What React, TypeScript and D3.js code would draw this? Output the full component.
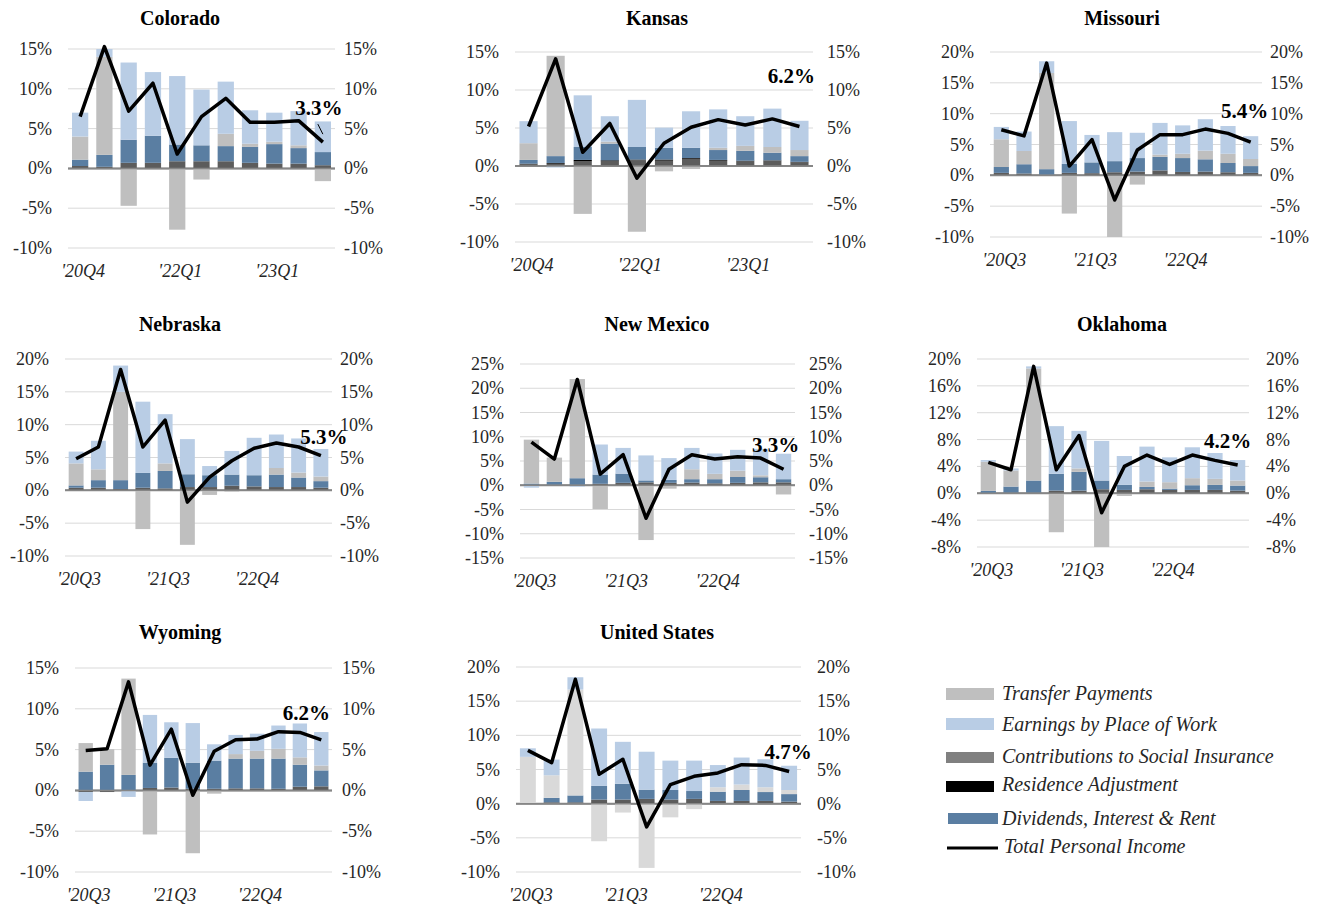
import React from 'react';
import * as d3 from 'd3';

// ---------- tick labels ----------
const ticksCOKS = ["'20Q4", '', '', '', "'22Q1", '', '', '', "'23Q1", '', ''];
const ticksOther = ["'20Q3", '', '', '', "'21Q3", '', '', '', "'22Q4", '', '', ''];

// ---------- Colorado ----------
const coContrib = [0.3, 0.2, 0.7, 0.7, 0.9, 0.9, 0.9, 0.7, 0.6, 0.6, 0.4];
const coResidence = [0, 0, 0, 0, 0, 0, 0, 0, 0, 0, 0];
const coDividends = [0.8, 1.5, 2.9, 3.4, 2.1, 2.0, 1.9, 2.0, 2.45, 1.95, 1.65];
const coTransfers = [2.9, 12.3, -4.7, 0, -7.7, -1.4, 1.55, 0.4, 0.3, 0.35, -1.6];
const coEarnings = [3.0, 1.0, 9.7, 8.0, 8.6, 7.0, 6.55, 4.2, 3.65, 4.3, 3.85];
const coTotal = [6.5, 15.3, 7.2, 10.7, 1.8, 6.5, 8.8, 5.8, 5.8, 6.0, 3.3];
const coCallout = 3.3;

// ---------- Kansas ----------
const ksContrib = [0.25, 0.3, 0.6, 0.6, 0.75, 0.7, 0.95, 0.7, 0.65, 0.7, 0.5];
const ksResidence = [0.05, 0.1, 0.2, 0.15, 0.1, 0.15, 0.1, 0.1, 0.05, 0.05, 0.05];
const ksDividends = [0.5, 0.9, 1.7, 2.2, 1.65, 1.55, 1.35, 1.3, 1.3, 1.0, 0.75];
const ksTransfers = [2.2, 13.2, -6.3, 0.25, -8.65, -0.7, -0.4, 0.3, 0.65, 0.75, 0.8];
const ksEarnings = [2.9, -0.2, 6.8, 3.35, 6.2, 2.65, 4.8, 5.05, 3.9, 5.05, 3.85];
const ksTotal = [5.2, 14.1, 1.8, 5.6, -1.6, 3.0, 5.1, 6.1, 5.4, 6.2, 5.2];
const ksCallout = 6.2;

// ---------- Missouri ----------
const moContrib = [0.4, 0.3, 0.1, 0.4, 0.35, 0.5, 0.6, 0.8, 0.55, 0.6, 0.5, 0.4];
const moResidence = [0, 0, 0, 0, 0, 0, 0, 0, 0, 0, 0, 0];
const moDividends = [0.95, 1.5, 0.9, 1.45, 1.75, 1.8, 2.2, 2.2, 2.25, 2.0, 1.5, 1.1];
const moTransfers = [4.5, 2.15, 15.6, -6.2, 0, -10.0, -1.5, 0.35, 0.7, 1.4, 1.5, 1.15];
const moEarnings = [2.0, 3.15, 1.9, 6.95, 4.45, 4.7, 4.1, 5.15, 4.6, 5.1, 4.5, 3.7];
const moTotal = [7.4, 6.4, 18.2, 1.5, 5.8, -4.0, 4.1, 6.6, 6.6, 7.5, 6.8, 5.4];
const moCallout = 5.4;

// ---------- Nebraska ----------
const neContrib = [0.4, 0.4, 0.2, 0.4, 0.3, 0.5, 0.5, 0.7, 0.6, 0.5, 0.5, 0.4];
const neResidence = [0, 0, 0, 0, 0, 0, 0, 0, 0, 0, 0, 0];
const neDividends = [0.35, 1.15, 1.35, 2.25, 2.65, 1.95, 1.8, 1.7, 1.7, 1.9, 1.45, 1.0];
const neTransfers = [3.35, 1.65, 13.45, -5.9, 1.15, -8.3, -0.7, -0.2, 0, 1.0, 0.75, 0.7];
const neEarnings = [1.8, 4.35, 4.0, 10.85, 7.5, 5.35, 1.4, 3.6, 5.7, 5.1, 5.2, 4.2];
const neTotal = [4.8, 6.6, 18.4, 6.6, 10.7, -1.8, 2.0, 4.5, 6.4, 7.2, 6.6, 5.3];
const neCallout = 5.3;

// ---------- New Mexico ----------
const nmContrib = [0.1, 0.1, 0.1, 0.3, 0.5, 0.6, 0.5, 0.55, 0.4, 0.5, 0.6, 0.6];
const nmResidence = [0, 0, 0, 0, 0, 0, 0, 0, 0, 0, 0, 0];
const nmDividends = [0.25, 0.6, 1.35, 1.9, 1.9, 0.4, 0.6, 0.7, 0.85, 1.2, 1.05, 0.65];
const nmTransfers = [9.05, 5.0, 20.45, -4.9, 0, -11.3, -0.7, 2.05, 1.1, 1.3, 0.4, -1.9];
const nmEarnings = [-0.5, 0, -0.3, 6.2, 5.3, 5.15, 4.5, 4.4, 4.2, 4.3, 5.45, 5.25];
const nmTotal = [8.9, 5.4, 21.8, 2.3, 6.3, -6.8, 3.3, 6.3, 5.4, 5.9, 5.6, 3.3];
const nmCallout = 3.3;

// ---------- Oklahoma ----------
const okContrib = [0.05, 0.1, 0.1, 0.4, 0.4, 0.6, 0.5, 0.6, 0.5, 0.5, 0.5, 0.4];
const okResidence = [0, 0, 0, 0, 0, 0, 0, 0, 0, 0, 0, 0];
const okDividends = [0.3, 0.9, 1.8, 2.5, 2.8, 1.3, 0.75, 0.35, 0.2, 0.7, 0.75, 0.75];
const okTransfers = [4.35, 2.4, 16.7, -5.8, 0.5, -8.4, -0.4, 0.8, 0.95, 1.05, 0.9, 0.75];
const okEarnings = [0.25, 0.3, 0.3, 7.1, 5.6, 5.9, 4.3, 5.2, 3.7, 4.6, 3.85, 3.05];
const okTotal = [4.6, 3.5, 18.9, 3.5, 8.6, -2.9, 4.0, 5.7, 4.3, 5.7, 4.9, 4.2];
const okCallout = 4.2;

// ---------- Wyoming ----------
const wyContrib = [-0.2, -0.2, 0, 0.3, 0.35, 0.2, 0.2, 0.25, 0.25, 0.2, 0.45, 0.5];
const wyResidence = [0, 0, 0, 0, 0, 0, 0, 0, 0, 0, 0, 0];
const wyDividends = [2.3, 3.15, 1.9, 3.1, 3.65, 3.2, 3.45, 3.65, 3.65, 3.7, 2.7, 1.95];
const wyTransfers = [3.5, 1.9, 11.8, -5.4, 0, -7.7, -0.4, 0.55, 0.95, 1.2, 0.9, 0.6];
const wyEarnings = [-1.1, 0, -0.8, 5.85, 4.35, 4.85, 2.0, 2.35, 2.1, 2.85, 4.15, 4.1];
const wyTotal = [4.9, 5.1, 13.3, 3.1, 7.5, -0.6, 4.8, 6.2, 6.3, 7.2, 7.1, 6.2];
const wyCallout = 6.2;

// ---------- United States ----------
const usContrib = [0.05, 0.2, 0.2, 0.6, 0.6, 0.7, 0.6, 0.7, 0.4, 0.4, 0.4, 0.3];
const usResidence = [0, 0, 0, 0, 0, 0, 0, 0, 0, 0, 0, 0];
const usDividends = [0.05, 0.65, 1.0, 2.0, 2.3, 1.35, 1.4, 1.15, 1.35, 1.6, 1.3, 1.1];
const usTransfers = [6.75, 3.3, 15.5, -5.5, -1.3, -9.4, -2.0, -0.8, 0.65, 0.8, 0.7, 0.6];
const usEarnings = [1.25, 2.3, 1.8, 8.4, 6.15, 5.55, 4.3, 4.45, 3.25, 3.95, 4.1, 3.55];
const usTotal = [7.8, 6.0, 18.2, 4.3, 6.5, -3.4, 2.8, 4.0, 4.5, 5.7, 5.6, 4.7];
const usCallout = 4.7;

// ---------- legend ----------
const legendLabels = [
  'Transfer Payments',
  'Earnings by Place of Work',
  'Contributions to Social Insurance',
  'Residence Adjustment',
  'Dividends, Interest & Rent',
  'Total Personal Income',
];

const C_TRANSFER = '#bfbfbf';
const C_TRANSFER_US = '#d9d9d9';
const C_EARN = '#b9cde5';
const C_CONTRIB = '#5c5c5c';
const C_CONTRIB_LEGEND = '#808080';
const C_RES = '#000000';
const C_DIV = '#5a7ea2';
const FONT = "'Liberation Serif', 'Times New Roman', serif";

type Panel = {
  name: string;
  ticks: string[];
  contrib: number[];
  residence: number[];
  dividends: number[];
  transfers: number[];
  earnings: number[];
  total: number[];
  callout: number;
  transferColor: string;
  titleX: number;
  titleY: number;
  x0: number;
  x1: number;
  yTop: number;
  yBot: number;
  max: number;
  min: number;
  step: number;
  rightGap: number;
  lblDx: number;
  lblDy: number;
  leader?: boolean;
};

const panels: Panel[] = [
  { name: 'Colorado', ticks: ticksCOKS, contrib: coContrib, residence: coResidence, dividends: coDividends, transfers: coTransfers, earnings: coEarnings, total: coTotal, callout: coCallout, transferColor: C_TRANSFER,
    titleX: 180, titleY: 25, x0: 68, x1: 335, yTop: 49, yBot: 248, max: 15, min: -10, step: 5, rightGap: 9, lblDx: -4, lblDy: -27, leader: true },
  { name: 'Kansas', ticks: ticksCOKS, contrib: ksContrib, residence: ksResidence, dividends: ksDividends, transfers: ksTransfers, earnings: ksEarnings, total: ksTotal, callout: ksCallout, transferColor: C_TRANSFER,
    titleX: 657, titleY: 25, x0: 515, x1: 813, yTop: 52, yBot: 242, max: 15, min: -10, step: 5, rightGap: 14, lblDx: -8, lblDy: -43 },
  { name: 'Missouri', ticks: ticksOther, contrib: moContrib, residence: moResidence, dividends: moDividends, transfers: moTransfers, earnings: moEarnings, total: moTotal, callout: moCallout, transferColor: C_TRANSFER,
    titleX: 1122, titleY: 25, x0: 990, x1: 1262, yTop: 52, yBot: 237, max: 20, min: -10, step: 5, rightGap: 8, lblDx: -6, lblDy: -24 },
  { name: 'Nebraska', ticks: ticksOther, contrib: neContrib, residence: neResidence, dividends: neDividends, transfers: neTransfers, earnings: neEarnings, total: neTotal, callout: neCallout, transferColor: C_TRANSFER,
    titleX: 180, titleY: 331, x0: 65, x1: 332, yTop: 359, yBot: 556, max: 20, min: -10, step: 5, rightGap: 8, lblDx: 3, lblDy: -12 },
  { name: 'New Mexico', ticks: ticksOther, contrib: nmContrib, residence: nmResidence, dividends: nmDividends, transfers: nmTransfers, earnings: nmEarnings, total: nmTotal, callout: nmCallout, transferColor: C_TRANSFER,
    titleX: 657, titleY: 331, x0: 520, x1: 795, yTop: 364, yBot: 558, max: 25, min: -15, step: 5, rightGap: 14, lblDx: -8, lblDy: -17 },
  { name: 'Oklahoma', ticks: ticksOther, contrib: okContrib, residence: okResidence, dividends: okDividends, transfers: okTransfers, earnings: okEarnings, total: okTotal, callout: okCallout, transferColor: C_TRANSFER,
    titleX: 1122, titleY: 331, x0: 977, x1: 1249, yTop: 359, yBot: 547, max: 20, min: -8, step: 4, rightGap: 17, lblDx: -10, lblDy: -17 },
  { name: 'Wyoming', ticks: ticksOther, contrib: wyContrib, residence: wyResidence, dividends: wyDividends, transfers: wyTransfers, earnings: wyEarnings, total: wyTotal, callout: wyCallout, transferColor: C_TRANSFER,
    titleX: 180, titleY: 639, x0: 75, x1: 332, yTop: 668, yBot: 872, max: 15, min: -10, step: 5, rightGap: 10, lblDx: -15, lblDy: -20 },
  { name: 'United States', ticks: ticksOther, contrib: usContrib, residence: usResidence, dividends: usDividends, transfers: usTransfers, earnings: usEarnings, total: usTotal, callout: usCallout, transferColor: C_TRANSFER_US,
    titleX: 657, titleY: 639, x0: 516, x1: 801, yTop: 667, yBot: 872, max: 20, min: -10, step: 5, rightGap: 16, lblDx: -1, lblDy: -13 },
];

function PanelChart({ p }: { p: Panel }) {
  const n = p.total.length;
  const idx = d3.range(n);
  const x = d3.scaleBand<number>().domain(idx).range([p.x0, p.x1]).paddingInner(0.33).paddingOuter(0.165);
  const y = d3.scaleLinear().domain([p.min, p.max]).range([p.yBot, p.yTop]);
  const ticks = d3.range(p.min, p.max + 0.001, p.step);
  const fmt = (v: number) => `${Math.round(v)}%`;

  const series = [
    { vals: p.contrib, color: C_CONTRIB },
    { vals: p.residence, color: C_RES },
    { vals: p.dividends, color: C_DIV },
    { vals: p.transfers, color: p.transferColor },
    { vals: p.earnings, color: C_EARN },
  ];
  const clamp = (v: number) => Math.max(p.min, Math.min(p.max, v));
  const rects: JSX.Element[] = [];
  idx.forEach((i) => {
    let pos = 0;
    let neg = 0;
    series.forEach((s, si) => {
      const v = s.vals[i];
      if (!v) return;
      let a: number, b: number;
      if (v > 0) { a = pos; b = pos + v; pos = b; } else { a = neg; b = neg + v; neg = b; }
      const ya = y(clamp(a));
      const yb = y(clamp(b));
      rects.push(
        <rect key={`${i}-${si}`} x={x(i)} width={x.bandwidth()} y={Math.min(ya, yb)} height={Math.abs(ya - yb)} fill={s.color} />
      );
    });
  });

  const line = d3.line<number>().x((i) => (x(i) as number) + x.bandwidth() / 2).y((i) => y(p.total[i]));
  const lastX = (x(n - 1) as number) + x.bandwidth() / 2;
  const lastY = y(p.total[n - 1]);

  return (
    <g>
      <text x={p.titleX} y={p.titleY} textAnchor="middle" fontFamily={FONT} fontWeight="bold" fontSize={20} fill="#000">{p.name}</text>
      {ticks.map((t) => (
        <line key={`g${t}`} x1={p.x0} x2={p.x1} y1={y(t)} y2={y(t)} stroke={t === 0 ? '#868686' : '#d9d9d9'} strokeWidth={t === 0 ? 2 : 1} />
      ))}
      {rects}
      <line x1={p.x0} x2={p.x1} y1={y(0)} y2={y(0)} stroke="#868686" strokeWidth={1.5} />
      {ticks.map((t) => (
        <text key={`l${t}`} x={p.x0 - 16} y={y(t) + 6} textAnchor="end" fontFamily={FONT} fontSize={18} fill="#262626">{fmt(t)}</text>
      ))}
      {ticks.map((t) => (
        <text key={`r${t}`} x={p.x1 + p.rightGap} y={y(t) + 6} textAnchor="start" fontFamily={FONT} fontSize={18} fill="#262626">{fmt(t)}</text>
      ))}
      {p.ticks.map((lbl, i) => lbl ? (
        <text key={`x${i}`} x={(x(i) as number) + x.bandwidth() / 2 + 3} y={p.yBot + 29} textAnchor="middle" fontFamily={FONT} fontStyle="italic" fontSize={18} fill="#262626">{lbl}</text>
      ) : null)}
      <path d={line(idx) || ''} fill="none" stroke="#000" strokeWidth={3.5} strokeLinejoin="round" />
      {p.leader ? <line x1={lastX - 5} y1={lastY - 18} x2={lastX} y2={lastY - 8} stroke="#000" strokeWidth={1} /> : null}
      <text x={lastX + p.lblDx} y={lastY + p.lblDy} textAnchor="middle" fontFamily={FONT} fontWeight="bold" fontSize={21} fill="#000">{`${p.callout.toFixed(1)}%`}</text>
    </g>
  );
}

function Legend() {
  const swatches = [
    { color: C_TRANSFER, x: 946, y: 688, w: 48, h: 12, ty: 700 },
    { color: C_EARN, x: 946, y: 718, w: 48, h: 12, ty: 731 },
    { color: C_CONTRIB_LEGEND, x: 946, y: 752, w: 48, h: 11, ty: 763 },
    { color: C_RES, x: 946, y: 781, w: 48, h: 11, ty: 791 },
    { color: C_DIV, x: 948, y: 813, w: 50, h: 11, ty: 825 },
  ];
  return (
    <g>
      {swatches.map((s, i) => (
        <g key={i}>
          <rect x={s.x} y={s.y} width={s.w} height={s.h} fill={s.color} />
          <text x={1002} y={s.ty} fontFamily={FONT} fontStyle="italic" fontSize={20} fill="#262626">{legendLabels[i]}</text>
        </g>
      ))}
      <line x1={947} x2={998} y1={848} y2={848} stroke="#000" strokeWidth={3} />
      <text x={1004} y={853} fontFamily={FONT} fontStyle="italic" fontSize={20} fill="#262626">{legendLabels[5]}</text>
    </g>
  );
}

export default function App() {
  return (
    <svg width={1330} height={907} style={{ position: 'absolute', left: 0, top: 0, background: '#fff' }}>
      <rect x={0} y={0} width={1330} height={907} fill="#fff" />
      {panels.map((p) => <PanelChart key={p.name} p={p} />)}
      <Legend />
    </svg>
  );
}
